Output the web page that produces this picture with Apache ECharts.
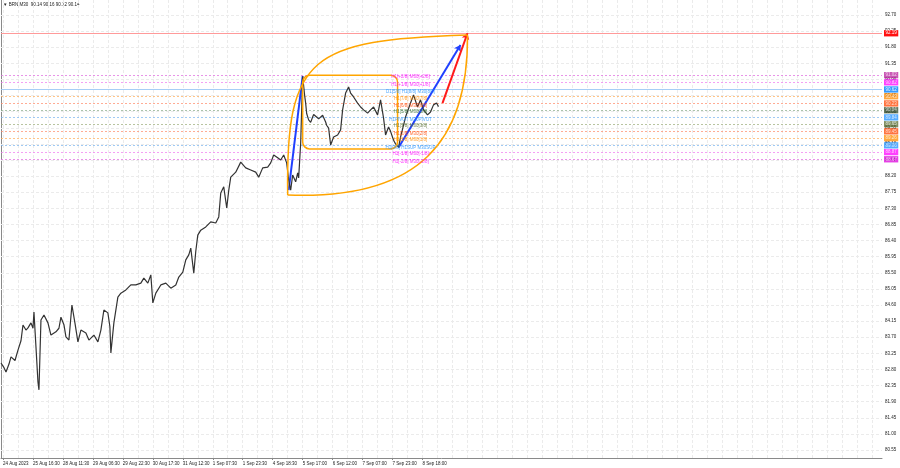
<!DOCTYPE html>
<html><head><meta charset="utf-8">
<script src="https://cdn.jsdelivr.net/npm/echarts@6/dist/echarts.min.js"></script>
<style>html,body{margin:0;padding:0;background:#fff}#c{width:900px;height:468px}</style>
</head><body><div id="c"></div>
<script>
// ---------- data ----------
const chartTitle = '\u25BC BRN,M30  90.14 90.16 90.12 90.14';
const timeLabels = ['24 Aug 2023','25 Aug 16:30','28 Aug 11:30','29 Aug 06:30','29 Aug 22:30','30 Aug 17:30','31 Aug 12:30','1 Sep 07:30','1 Sep 23:30','4 Sep 18:30','5 Sep 17:00','6 Sep 12:00','7 Sep 07:00','7 Sep 23:00','8 Sep 18:00'];
const priceTicks = [92.70,92.25,91.80,91.35,90.90,90.45,90.00,89.55,89.10,88.65,88.20,87.75,87.30,86.85,86.40,85.95,85.50,85.05,84.60,84.15,83.70,83.25,82.80,82.35,81.90,81.45,81.00,80.55];
const barIndex = [0,3,5,8,10,14,17,20,22,25,27,30,32,33,35,37,38,40,43,47,50,55,58,60,63,65,68,71,74,77,80,85,88,93,97,100,103,107,109,110,113,117,120,125,130,135,140,143,147,150,152,155,160,165,170,175,178,182,185,188,190,193,195,197,200,205,210,215,218,220,223,226,228,230,235,240,245,250,255,258,262,267,270,273,277,280,283,286,288,290,292,295,297,298,300,302,304,305,306,308,310,312,313,315,318,320,322,325,326,328,330,333,337,340,342,345,348,350,353,357,360,363,367,370,373,377,380,383,385,388,390,393,395,398,400,405,410,413,417,420,423,427,430,433,436,438];
const closePrice = [82.98,82.85,82.73,82.95,83.15,83.05,83.34,83.60,84.04,83.90,83.96,84.10,83.95,84.40,83.43,82.45,82.23,84.18,84.32,84.10,83.76,83.85,83.95,84.26,84.05,83.71,83.62,84.60,84.10,83.57,83.90,83.82,83.62,83.76,83.57,83.90,84.46,84.38,84.00,83.26,84.10,84.82,84.93,85.02,85.16,85.16,85.21,85.35,85.21,85.44,84.66,84.93,85.16,85.21,85.07,85.16,85.38,85.52,85.86,86.00,86.19,85.49,86.10,86.55,86.69,86.78,86.92,86.89,87.06,87.73,87.90,87.31,87.80,88.17,88.31,88.59,88.43,88.37,88.31,88.17,88.43,88.45,88.57,88.79,88.71,88.65,88.79,88.57,88.09,87.81,88.23,88.04,88.29,88.15,89.12,90.99,90.45,90.24,89.95,89.77,89.70,89.85,89.92,89.96,89.80,89.85,89.90,89.71,89.62,89.54,89.07,89.29,89.35,89.49,90.05,90.52,90.69,90.52,90.41,90.24,90.13,90.05,89.96,90.05,90.13,89.91,90.33,89.82,89.35,89.57,89.45,89.20,89.10,89.00,89.29,89.85,90.24,90.47,90.13,90.33,90.05,89.91,89.99,90.19,90.24,90.14];
const levelValues = [91.02,90.82,90.62,90.43,90.23,90.04,89.84,89.65,89.45,89.26,89.06,88.87,88.67];
const levelNames = ['H1[+2/8] M30[+2/8]','H1[+1/8] M30[+1/8]','D1[5/8] H1[8/8] M30[8/8]','H1[7/8] M30[7/8]','H1[6/8] M30[6/8]','H1[5/8] M30[5/8]','H1PIVOT M30PIVOT','H1[3/8] M30[3/8]','H1[2/8] M30[2/8]','H1[1/8] M30[1/8]','H1[0/8] H1SUP M30SUP','H1[-1/8] M30[-1/8]','H1[-2/8] M30[-2/8]'];
const targetPrice = 92.19;
const impulseX = [288, 302], impulseP = [87.81, 90.99];
const projX = [398, 460], projP = [89.00, 91.86];
const targetArrowX = [442, 467], targetArrowP = [90.24, 92.19];
const boxX = [302, 397], boxP = [91.02, 88.96];
// leaf: start, top ctrl1, top ctrl2, end, bottom ctrl1, bottom ctrl2
const leafX = [287, 285, 310, 467, 420, 468];
const leafP = [87.67, 91.58, 92.00, 92.14, 87.53, 89.21];

// ---------- styles ----------
const FONT = 'Liberation Sans';
const FS = 4.5;
const levelBg = ['#b8209c','#ff00ff','#1e90ff','#ff8c00','#ff4500','#2f4a28','#1e90ff','#556b2f','#ff4500','#ff8c00','#1e90ff','#ff00ff','#dd00dd'];
const levelText = ['#ff00ff','#ff00ff','#1e90ff','#ff8c00','#ff4500','#2e6b2e','#1e90ff','#556b2f','#ff4500','#ff8c00','#1e90ff','#ff00ff','#ff00ff'];
const levelLine = ['#e070e0','#f080f0','#9cc9f5','#ffb060','#ff9070','#90b090','#80b8f0','#a0b080','#ff9070','#ffb060','#80b8f0','#f080f0','#e070e0'];
const X_MAX = 882;
const labelCenterX = 410;
const timeTickPos = timeLabels.map((_, i) => 2 + 30 * i);
const vGrid = []; for (let x = 2; x < X_MAX; x += 15) vGrid.push(x);

const chart = echarts.init(document.getElementById('c'), null, {renderer: 'canvas'});

const gridLines = [];
priceTicks.forEach(v => gridLines.push({yAxis: v}));
vGrid.forEach(v => gridLines.push({xAxis: v}));

const levelMarks = levelValues.map((v, i) => ({
  yAxis: v,
  lineStyle: {color: levelLine[i], type: i === 2 ? 'solid' : [2, 2], width: 1, opacity: i === 2 ? 0.9 : 0.75},
  label: {show: true, position: 'end', distance: 2, formatter: v.toFixed(2), color: '#fff',
    backgroundColor: levelBg[i], padding: [0.8, 1.5, 0.5, 1.5], fontSize: FS, fontFamily: FONT}
}));
levelMarks.push({
  yAxis: targetPrice,
  lineStyle: {color: '#ff9a9a', type: 'solid', width: 1},
  label: {show: true, position: 'end', distance: 2, formatter: targetPrice.toFixed(2), color: '#fff',
    backgroundColor: '#ff1010', padding: [0.8, 1.5, 0.5, 1.5], fontSize: FS, fontFamily: FONT}
});

const option = {
  animation: false,
  backgroundColor: '#fff',
  grid: {left: 0, right: 900 - X_MAX, top: 0, bottom: 10, containLabel: false},
  xAxis: {
    type: 'value', min: 0, max: X_MAX,
    axisLine: {show: true, lineStyle: {color: '#8a8a8a', width: 1}},
    axisTick: {show: true, length: 2, customValues: timeTickPos, lineStyle: {color: '#8a8a8a'}},
    splitLine: {show: false},
    axisLabel: {show: true, customValues: timeTickPos, align: 'left', margin: 3,
      fontSize: FS, fontFamily: FONT, color: '#222',
      formatter: v => timeLabels[timeTickPos.indexOf(v)] || ''}
  },
  yAxis: {
    type: 'value', position: 'right', min: 80.326, max: 93.119, scale: true,
    axisLine: {show: true, lineStyle: {color: '#8a8a8a', width: 1}},
    axisTick: {show: true, length: 2, customValues: priceTicks, lineStyle: {color: '#8a8a8a'}},
    splitLine: {show: false},
    axisLabel: {show: true, customValues: priceTicks, margin: 3, fontSize: FS, fontFamily: FONT, color: '#222',
      formatter: v => v.toFixed(2)}
  },
  graphic: [{type: 'text', left: 3, top: 2, style: {text: chartTitle, font: FS + 'px ' + FONT, fill: '#222'}}],
  series: [
    { // grid
      type: 'line', data: [[0, 80.5]], symbol: 'none', lineStyle: {opacity: 0}, silent: true, z: 1,
      markLine: {silent: true, symbol: 'none', animation: false, label: {show: false},
        lineStyle: {color: '#ebebeb', type: [3, 2], width: 1}, data: gridLines}
    },
    { // levels
      type: 'line', data: [[0, 80.5]], symbol: 'none', lineStyle: {opacity: 0}, silent: true, z: 2,
      markLine: {silent: true, symbol: 'none', animation: false, data: levelMarks}
    },
    { // price
      type: 'line', z: 5, showSymbol: false, symbol: 'none',
      data: barIndex.map((x, i) => [x, closePrice[i]]),
      lineStyle: {color: '#333', width: 1.2}
    },
    { // rounded box
      type: 'custom', z: 6, silent: true, clip: false,
      data: [[boxX[0], boxP[0]]],
      renderItem: (params, api) => {
        const a = api.coord([boxX[0], boxP[0]]), b = api.coord([boxX[1], boxP[1]]);
        return {type: 'rect', shape: {x: a[0], y: a[1], width: b[0] - a[0], height: b[1] - a[1], r: 7},
          style: {stroke: '#ffa500', fill: 'none', lineWidth: 1.5}};
      }
    },
    { // leaf
      type: 'custom', z: 6, silent: true, clip: false,
      data: [[leafX[0], leafP[0]]],
      renderItem: (params, api) => {
        const P = leafX.map((x, i) => api.coord([x, leafP[i]]));
        const st = {stroke: '#ffa500', fill: 'none', lineWidth: 1.5};
        return {type: 'group', children: [
          {type: 'bezierCurve', shape: {x1: P[0][0], y1: P[0][1], cpx1: P[1][0], cpy1: P[1][1], cpx2: P[2][0], cpy2: P[2][1], x2: P[3][0], y2: P[3][1]}, style: st},
          {type: 'bezierCurve', shape: {x1: P[0][0], y1: P[0][1], cpx1: P[4][0], cpy1: P[4][1], cpx2: P[5][0], cpy2: P[5][1], x2: P[3][0], y2: P[3][1]}, style: st}
        ]};
      }
    },
    { // arrows
      type: 'line', data: [[0, 80.5]], symbol: 'none', lineStyle: {opacity: 0}, silent: true, z: 7,
      markLine: {silent: true, animation: false, label: {show: false}, data: [
        [{coord: [impulseX[0], impulseP[0]], symbol: 'none'}, {coord: [impulseX[1], impulseP[1]], symbol: 'none', lineStyle: {color: '#2040ff', width: 2, type: 'solid'}}],
        [{coord: [projX[0], projP[0]], symbol: 'none'}, {coord: [projX[1], projP[1]], symbol: 'arrow', symbolSize: 6, lineStyle: {color: '#2040ff', width: 2, type: 'solid'}}],
        [{coord: [targetArrowX[0], targetArrowP[0]], symbol: 'none'}, {coord: [targetArrowX[1], targetArrowP[1]], symbol: 'arrow', symbolSize: 6, lineStyle: {color: '#ff1a1a', width: 2, type: 'solid'}}]
      ], lineStyle: {width: 2, type: 'solid'}}
    },
    { // level texts
      type: 'scatter', z: 8, silent: true, symbolSize: 1, itemStyle: {color: 'rgba(0,0,0,0)'},
      data: levelValues.map((v, i) => ({value: [labelCenterX, v],
        label: {show: true, position: 'inside', offset: [0, 2], formatter: levelNames[i], color: levelText[i], fontSize: FS, fontFamily: FONT}}))
    }
  ]
};
chart.setOption(option);
</script></body></html>
